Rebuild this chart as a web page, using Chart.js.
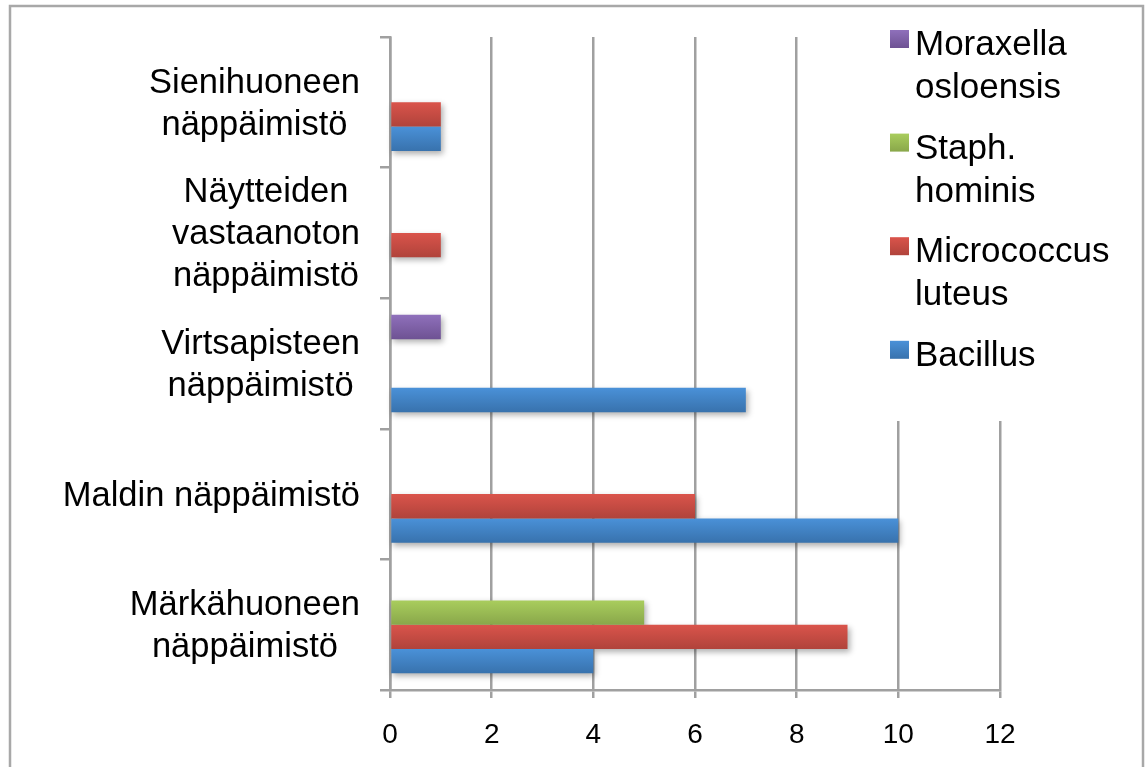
<!DOCTYPE html>
<html lang="fi">
<head>
<meta charset="utf-8">
<title>Bakteerilöydökset näppäimistöiltä</title>
<script src="https://cdn.jsdelivr.net/npm/chart.js@4/dist/chart.umd.min.js"></script>
<style>
  html, body { margin: 0; padding: 0; background: #fff; }
  canvas { display: block; }
</style>
</head>
<body>
<canvas id="chart" width="1145" height="767"></canvas>
<script>
// Categories, listed top to bottom; each entry holds the label's lines
const categories = [
  ['Sienihuoneen', 'näppäimistö'],
  ['Näytteiden', 'vastaanoton', 'näppäimistö'],
  ['Virtsapisteen', 'näppäimistö'],
  ['Maldin näppäimistö'],
  ['Märkähuoneen', 'näppäimistö']
];

// Series names (legend lines), in legend order top to bottom
const seriesNames = [
  ['Moraxella', 'osloensis'],
  ['Staph.', 'hominis'],
  ['Micrococcus', 'luteus'],
  ['Bacillus']
];

// Counts per category
const moraxella    = [0, 0, 1, 0, 0];
const staphHominis = [0, 0, 0, 0, 5];
const micrococcus  = [1, 1, 0, 6, 9];
const bacillus     = [1, 0, 7, 10, 4];

// Value axis
const xMin = 0;
const xMax = 12;
const xStep = 2;

// Bar colours: light top / dark bottom of each bar's gradient
const topColors    = ['#8f70bb', '#a9cd5d', '#da544b', '#4a91d8'];
const bottomColors = ['#6e5293', '#89a74a', '#b0433b', '#3872ad'];

const seriesValues = [moraxella, staphHominis, micrococcus, bacillus];
const gridColor = '#a0a0a0';
const fontFamily = '"Liberation Sans", Arial, sans-serif';

// Page frame around the chart
const framePlugin = {
  id: 'frame',
  beforeDraw(chart) {
    const ctx = chart.ctx;
    ctx.save();
    ctx.fillStyle = '#fff';
    ctx.fillRect(0, 0, chart.width, chart.height);
    ctx.strokeStyle = '#a8a8a8';
    ctx.lineWidth = 2.5;
    ctx.strokeRect(10, 6, 1133, 900);
    ctx.restore();
  }
};

// Vertical gradient fill for every bar, following the bar's own geometry
const gradientPlugin = {
  id: 'barGradient',
  afterDatasetsUpdate(chart) {
    const ctx = chart.ctx;
    chart.data.datasets.forEach((ds, i) => {
      const meta = chart.getDatasetMeta(i);
      meta.data.forEach(el => {
        const top = el.y - el.height / 2;
        const g = ctx.createLinearGradient(0, top, 0, top + el.height);
        g.addColorStop(0, topColors[i]);
        g.addColorStop(1, bottomColors[i]);
        el.options = Object.assign({}, el.options, { backgroundColor: g });
      });
    });
  }
};

// Soft drop shadow painted under all bars before they are drawn
const shadowPlugin = {
  id: 'barShadow',
  beforeDatasetsDraw(chart) {
    const ctx = chart.ctx;
    const OFF = 5000;
    ctx.save();
    ctx.shadowColor = 'rgba(0,0,0,0.32)';
    ctx.shadowBlur = 6;
    ctx.shadowOffsetX = 2 + OFF;
    ctx.shadowOffsetY = 3;
    ctx.fillStyle = '#000';
    chart.data.datasets.forEach((ds, i) => {
      chart.getDatasetMeta(i).data.forEach(el => {
        const w = el.x - el.base;
        if (w <= 0) return;
        ctx.fillRect(el.base - OFF, el.y - el.height / 2, w, el.height);
      });
    });
    ctx.restore();
  }
};

// Category labels: block right-aligned to the axis, lines centred within the block
const categoryLabelPlugin = {
  id: 'categoryLabels',
  afterDraw(chart) {
    const ctx = chart.ctx;
    const yScale = chart.scales.y;
    ctx.save();
    ctx.font = '34.5px ' + fontFamily;
    ctx.fillStyle = '#000';
    ctx.textAlign = 'center';
    ctx.textBaseline = 'middle';
    const rightEdge = yScale.right - 30;
    const lineH = 42;
    categories.forEach((lines, i) => {
      const cy = yScale.getPixelForValue(i);
      const widest = Math.max(...lines.map(l => ctx.measureText(l).width));
      const cx = rightEdge - widest / 2;
      lines.forEach((line, j) => {
        ctx.fillText(line, cx, cy + (j - (lines.length - 1) / 2) * lineH + 2);
      });
    });
    ctx.restore();
  }
};

// Legend box sitting over the upper right of the plot
const legendPlugin = {
  id: 'sideLegend',
  afterDraw(chart) {
    const ctx = chart.ctx;
    ctx.save();
    ctx.fillStyle = '#fff';
    ctx.fillRect(862, 12, 272, 409);
    ctx.font = '35px ' + fontFamily;
    ctx.textAlign = 'left';
    ctx.textBaseline = 'alphabetic';
    seriesNames.forEach((lines, k) => {
      const top = 30 + k * 103.6;
      const g = ctx.createLinearGradient(0, top, 0, top + 18);
      g.addColorStop(0, topColors[k]);
      g.addColorStop(1, bottomColors[k]);
      ctx.fillStyle = g;
      ctx.fillRect(890, top, 19, 18);
      ctx.fillStyle = '#000';
      lines.forEach((line, j) => {
        ctx.fillText(line, 915, top + 25 + j * 43);
      });
    });
    ctx.restore();
  }
};

const datasets = seriesNames.map((name, i) => ({
  label: name.join(' '),
  data: seriesValues[i],
  backgroundColor: topColors[i],
  borderWidth: 0,
  categoryPercentage: 0.745,
  barPercentage: 1.0
}));

new Chart(document.getElementById('chart'), {
  type: 'bar',
  data: {
    labels: categories.map(c => c.join(' ')),
    datasets: datasets
  },
  options: {
    indexAxis: 'y',
    responsive: false,
    animation: false,
    events: [],
    layout: { padding: { left: 0, top: 37, right: 145, bottom: 0 } },
    plugins: {
      legend: { display: false },
      tooltip: { enabled: false }
    },
    scales: {
      x: {
        min: xMin,
        max: xMax,
        ticks: {
          stepSize: xStep,
          color: '#000',
          font: { family: fontFamily, size: 28 },
          padding: 20
        },
        grid: {
          color: gridColor,
          lineWidth: 2.5,
          tickLength: 8,
          drawOnChartArea: true
        },
        border: { display: true, color: gridColor, width: 2.5 },
        afterFit(scale) { scale.height = 77; }
      },
      y: {
        type: 'category',
        offset: true,
        ticks: { display: false },
        grid: {
          offset: true,
          drawOnChartArea: false,
          color: gridColor,
          lineWidth: 2.5,
          tickLength: 10
        },
        border: { display: true, color: gridColor, width: 2.5 },
        afterFit(scale) { scale.width = 390; }
      }
    }
  },
  plugins: [framePlugin, gradientPlugin, shadowPlugin, categoryLabelPlugin, legendPlugin]
});
</script>
</body>
</html>
